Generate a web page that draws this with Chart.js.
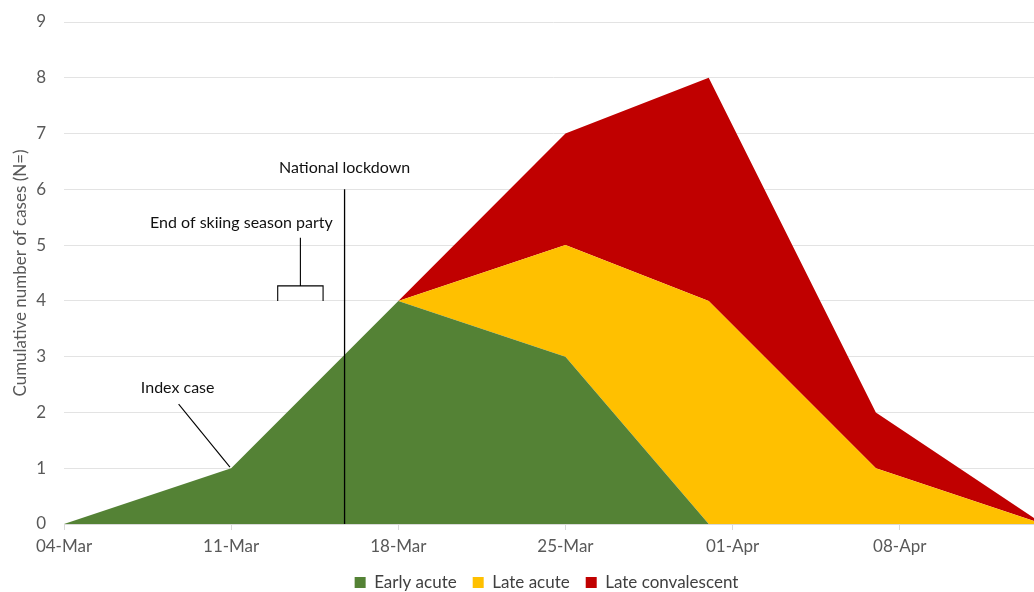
<!DOCTYPE html>
<html>
<head>
<meta charset="utf-8">
<script src="https://cdn.jsdelivr.net/npm/chart.js@4"></script>
<style>
  html, body { margin: 0; padding: 0; background: #fff; overflow: hidden; }
  #wrap { width: 1080px; height: 592px; position: relative; }
</style>
</head>
<body>
<div id="wrap"><canvas id="chart"></canvas></div>
<script>
// data (days counted from 04-Mar)
const pointDays = [0, 7, 14, 21, 27, 34, 41];
const earlyAcute = [0, 1, 4, 3, 0, 0, 0];
const lateAcute = [0, 0, 0, 2, 4, 1, 0];
const lateConvalescent = [0, 0, 0, 2, 4, 1, 0];
const tickLabels = ['04-Mar', '11-Mar', '18-Mar', '25-Mar', '01-Apr', '08-Apr'];

Chart.defaults.font.family = "Lato, 'Open Sans', sans-serif";
Chart.defaults.color = '#595959';

function toPoints(values) {
    return values.map((v, i) => ({ x: pointDays[i], y: v }));
}

// notes drawn on top of the areas, in data units
const notesPlugin = {
    id: 'notes',
    afterLayout(chart) {
        // nudge the legend to the right, like the original
        chart.legend.left += 20;
        chart.legend.right += 20;
    },
    afterDatasetsDraw(chart) {
        const ctx = chart.ctx;
        const xs = chart.scales.x;
        const ys = chart.scales.y;
        const px = d => xs.getPixelForValue(d);
        const py = v => ys.getPixelForValue(v);

        ctx.save();
        ctx.strokeStyle = '#000';
        ctx.lineWidth = 1.3;

        // lockdown line
        ctx.beginPath();
        ctx.moveTo(px(11.75), py(6.0));
        ctx.lineTo(px(11.75), py(0));
        ctx.stroke();

        // party bracket
        ctx.lineWidth = 1.1;
        ctx.beginPath();
        ctx.moveTo(px(9.9), py(5.13));
        ctx.lineTo(px(9.9), py(4.27));
        ctx.moveTo(px(8.95), py(4.0));
        ctx.lineTo(px(8.95), py(4.27));
        ctx.lineTo(px(10.85), py(4.27));
        ctx.lineTo(px(10.85), py(4.0));
        ctx.stroke();

        // index case pointer
        ctx.beginPath();
        ctx.moveTo(px(4.8), py(2.15));
        ctx.lineTo(px(6.95), py(1.02));
        ctx.stroke();

        ctx.fillStyle = '#111';
        ctx.font = "16px Lato, 'Open Sans', sans-serif";
        ctx.textAlign = 'center';
        ctx.textBaseline = 'middle';
        ctx.fillText('National lockdown', px(11.75), py(6.39));
        ctx.fillText('End of skiing season party', px(7.43), py(5.4));
        ctx.fillText('Index case', px(4.76), py(2.44));
        ctx.restore();
    }
};

new Chart(document.getElementById('chart'), {
    type: 'line',
    data: {
        datasets: [
            {
                label: 'Early acute',
                data: toPoints(earlyAcute),
                backgroundColor: '#548235',
                borderColor: '#548235',
                borderWidth: 0,
                pointRadius: 0,
                fill: 'origin'
            },
            {
                label: 'Late acute',
                data: toPoints(lateAcute),
                backgroundColor: '#FFC000',
                borderColor: '#FFC000',
                borderWidth: 0,
                pointRadius: 0,
                fill: '-1'
            },
            {
                label: 'Late convalescent',
                data: toPoints(lateConvalescent),
                backgroundColor: '#C00000',
                borderColor: '#C00000',
                borderWidth: 0,
                pointRadius: 0,
                fill: '-1'
            }
        ]
    },
    options: {
        responsive: true,
        maintainAspectRatio: false,
        animation: false,
        layout: { padding: { left: 10, right: 37, top: 22, bottom: -9 } },
        plugins: {
            legend: {
                position: 'bottom',
                labels: {
                    boxWidth: 11,
                    boxHeight: 11,
                    padding: 16,
                    font: { size: 17 },
                    color: '#404040'
                }
            },
            tooltip: { enabled: false }
        },
        scales: {
            x: {
                type: 'linear',
                min: 0,
                max: 41,
                afterFit(scale) {
                    scale.paddingLeft = 0;
                    scale.paddingRight = 0;
                    scale.height = 34;
                },
                grid: {
                    drawOnChartArea: false,
                    color: '#d9d9d9',
                    tickLength: 6
                },
                border: { color: '#d9d9d9' },
                ticks: {
                    stepSize: 7,
                    autoSkip: false,
                    maxRotation: 0,
                    font: { size: 17 },
                    padding: 6,
                    callback: v => tickLabels[v / 7] || ''
                }
            },
            y: {
                stacked: true,
                min: 0,
                max: 9,
                afterFit(scale) {
                    scale.width = 54;
                    scale.paddingTop = 0;
                    scale.paddingBottom = 0;
                },
                grid: { color: '#e3e3e3', drawTicks: false },
                border: { display: false },
                ticks: {
                    stepSize: 1,
                    font: { size: 17 },
                    padding: 18
                },
                title: {
                    display: true,
                    text: 'Cumulative number of cases (N=)',
                    font: { size: 17 },
                    padding: 0
                }
            }
        }
    },
    plugins: [notesPlugin]
});
</script>
</body>
</html>
